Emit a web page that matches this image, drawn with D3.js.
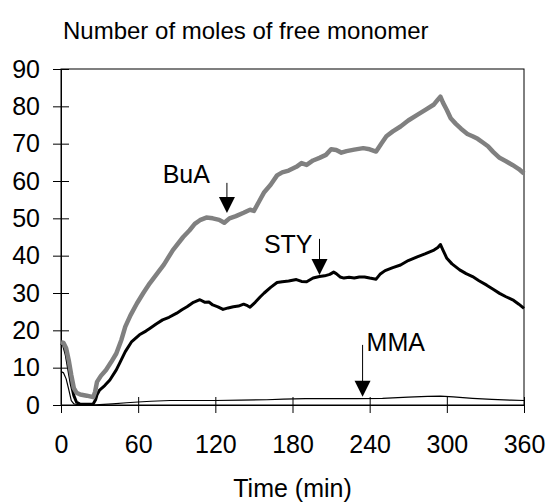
<!DOCTYPE html>
<html>
<head>
<meta charset="utf-8">
<script src="https://cdn.jsdelivr.net/npm/d3@7"></script>
<style>
  html, body { margin: 0; padding: 0; background: #fff; }
  svg { display: block; font-family: "Liberation Sans", Arial, sans-serif; }
</style>
</head>
<body>
<svg id="chart" width="548" height="503"></svg>
<script>
// Free monomer (moles) over reaction time (min)
const buaTime = [0, 2, 4, 6, 8, 10, 12, 15, 20, 25, 26.5, 28, 31, 35, 39, 43, 47, 50, 54, 59, 64, 69, 75, 80, 87, 95, 100, 104, 108, 113, 118, 123, 127, 131, 136, 142, 147, 150, 154, 158, 163, 168, 172, 177, 183, 187, 191, 196, 201, 206, 210, 214, 218, 222, 228, 235, 240, 245, 249, 253, 258, 264, 270, 277, 283, 290, 293, 295, 297, 300, 303, 307, 311, 316, 320, 324, 328, 332, 336, 341, 346, 351, 356, 360];
const buaValue = [16.8, 16.6, 15.2, 12, 8, 4.5, 3.3, 2.8, 2.5, 2.1, 3.5, 6.2, 7.8, 9.4, 11.5, 13.8, 17.5, 21, 24, 27.2, 30, 32.6, 35.3, 37.6, 41.5, 45, 46.8, 48.5, 49.5, 50.2, 50, 49.6, 48.8, 50, 50.6, 51.5, 52.3, 52, 54.5, 57, 59, 61.5, 62.3, 62.8, 63.8, 64.8, 64.3, 65.5, 66.2, 67, 68.5, 68.3, 67.6, 68, 68.4, 68.8, 68.5, 67.9, 70, 72, 73.3, 74.6, 76.2, 77.7, 79, 80.5, 81.8, 82.6, 81, 79, 76.8, 75.3, 74, 72.6, 72, 71.3, 70.3, 69.3, 67.8, 66.2, 65.3, 64.3, 63.2, 62];

const styTime = [0, 2, 4, 6, 8, 10, 12, 15, 20, 25, 27, 28, 30, 34, 38, 43, 46, 50, 55, 61, 66, 69, 74, 79, 84, 90, 94, 98, 103, 108, 112, 115, 118, 122, 126, 130, 134, 138, 142, 145, 147, 151, 155, 158, 163, 168, 172, 177, 183, 187, 191, 196, 201, 205, 209, 212, 214, 217, 220, 224, 228, 232, 236, 240, 245, 248, 252, 258, 264, 270, 277, 283, 290, 293, 295, 297, 300, 304, 310, 315, 320, 325, 331, 336, 341, 346, 352, 356, 360];
const styValue = [16.5, 16, 13.5, 9.5, 5.5, 2.5, 0.8, 0.2, 0.2, 0.3, 1.5, 2.7, 4, 5.2, 6.7, 9.4, 11.5, 14.3, 17, 18.8, 19.8, 20.5, 21.7, 22.8, 23.5, 24.6, 25.5, 26.3, 27.5, 28.2, 27.5, 27.6, 26.8, 26.3, 25.6, 26, 26.3, 26.5, 27, 26.6, 26.2, 27.5, 29, 30, 31.5, 32.8, 33, 33.2, 33.6, 33.1, 33, 34, 34.4, 34.6, 35, 35.6, 35.2, 34.3, 34, 34.2, 34, 34.3, 34.3, 34, 33.7, 35, 36, 36.8, 37.5, 38.7, 39.7, 40.5, 41.5, 42.2, 43, 41.5, 39.3, 37.8, 36.2, 35.2, 34.4, 33.3, 32.1, 31, 29.9, 29, 28, 27, 25.9];

const mmaTime = [0, 2, 4, 6, 8, 10, 15, 25, 30, 40, 51, 60, 70, 85, 100, 120, 140, 160, 173, 190, 210, 230, 250, 270, 285, 295, 305, 320, 335, 350, 360];
const mmaValue = [9, 8.6, 7, 4.2, 1.2, 0.3, 0, 0, 0.1, 0.3, 0.6, 0.8, 1, 1.2, 1.2, 1.2, 1.3, 1.4, 1.6, 1.7, 1.7, 1.7, 1.8, 2.1, 2.3, 2.4, 2.2, 1.8, 1.5, 1.3, 1.2];

const xTicks = [0, 60, 120, 180, 240, 300, 360];
const yTicks = [0, 10, 20, 30, 40, 50, 60, 70, 80, 90];

// Arrow annotations: label, time, arrow top value, arrow tip value
const annoLabel = ["BuA", "STY", "MMA"];
const annoTime = [129, 201, 234.5];
const annoTop = [59.5, 44.5, 16.1];
const annoTip = [51.4, 34.8, 2.2];

const svg = d3.select("#chart");
const plotLeft = 61, plotRight = 524, plotTop = 69, plotBottom = 405;

const x = d3.scaleLinear().domain([0, 360]).range([plotLeft, plotRight]);
const y = d3.scaleLinear().domain([0, 90]).range([plotBottom, plotTop]);

// Frame
svg.append("rect")
  .attr("x", x(0)).attr("y", y(90))
  .attr("width", x(360) - x(0)).attr("height", y(0) - y(90))
  .attr("fill", "none").attr("stroke", "#000").attr("stroke-width", 1);

const fontSize = 25;

// Y axis: ticks crossing the axis line
const yOut = svg.append("g").attr("transform", `translate(${x(0)},0)`)
  .call(d3.axisLeft(y).tickValues(yTicks).tickSize(8).tickSizeOuter(0).tickPadding(13));
const yIn = svg.append("g").attr("transform", `translate(${x(0)},0)`)
  .call(d3.axisRight(y).tickValues(yTicks).tickSize(8).tickSizeOuter(0).tickFormat(""));

// X axis
const xOut = svg.append("g").attr("transform", `translate(0,${y(0)})`)
  .call(d3.axisBottom(x).tickValues(xTicks).tickSize(8).tickSizeOuter(0).tickPadding(22));
const xIn = svg.append("g").attr("transform", `translate(0,${y(0)})`)
  .call(d3.axisTop(x).tickValues(xTicks).tickSize(8).tickSizeOuter(0).tickFormat(""));

[yOut, yIn, xOut, xIn].forEach(g => {
  g.select(".domain").attr("stroke", "#000");
  g.selectAll(".tick line").attr("stroke", "#000");
  g.selectAll(".tick text")
    .attr("fill", "#000")
    .style("font-size", fontSize + "px")
    .style("font-family", '"Liberation Sans", Arial, sans-serif');
});

// Series lines
const line = d3.line().x(d => x(d[0])).y(d => y(d[1]));
const zip = (t, v) => t.map((ti, i) => [ti, v[i]]);

svg.append("path").datum(zip(mmaTime, mmaValue))
  .attr("d", line).attr("fill", "none")
  .attr("stroke", "#000").attr("stroke-width", 1.2).attr("stroke-linejoin", "round");

svg.append("path").datum(zip(styTime, styValue))
  .attr("d", line).attr("fill", "none")
  .attr("stroke", "#000").attr("stroke-width", 3).attr("stroke-linejoin", "round");

svg.append("path").datum(zip(buaTime, buaValue))
  .attr("d", line).attr("fill", "none")
  .attr("stroke", "#808080").attr("stroke-width", 4.5).attr("stroke-linejoin", "round");

// Annotations with arrows
const headH = 16, headW = 16;
const labelPlace = [
  { dx: -17, anchor: "end", dy: 0 },
  { dx: -7, anchor: "end", dy: 14 },
  { dx: 4, anchor: "start", dy: 6 }
];
annoLabel.forEach((lab, i) => {
  const ax = x(annoTime[i]);
  const y0 = y(annoTop[i]);
  const y1 = y(annoTip[i]);
  svg.append("line")
    .attr("x1", ax).attr("x2", ax)
    .attr("y1", y0).attr("y2", y1 - headH + 1)
    .attr("stroke", "#000").attr("stroke-width", 1);
  svg.append("path")
    .attr("d", `M${ax - headW / 2},${y1 - headH}L${ax + headW / 2},${y1 - headH}L${ax},${y1}Z`)
    .attr("fill", "#000");
  const p = labelPlace[i];
  svg.append("text")
    .attr("x", ax + p.dx).attr("y", y0 + p.dy)
    .attr("text-anchor", p.anchor)
    .style("font-size", fontSize + "px")
    .text(lab);
});

// Titles
svg.append("text")
  .attr("x", 63).attr("y", 39)
  .style("font-size", "24px")
  .text("Number of moles of free monomer");

svg.append("text")
  .attr("x", (plotLeft + plotRight) / 2).attr("y", 497)
  .attr("text-anchor", "middle")
  .style("font-size", fontSize + "px")
  .text("Time (min)");
</script>
</body>
</html>
